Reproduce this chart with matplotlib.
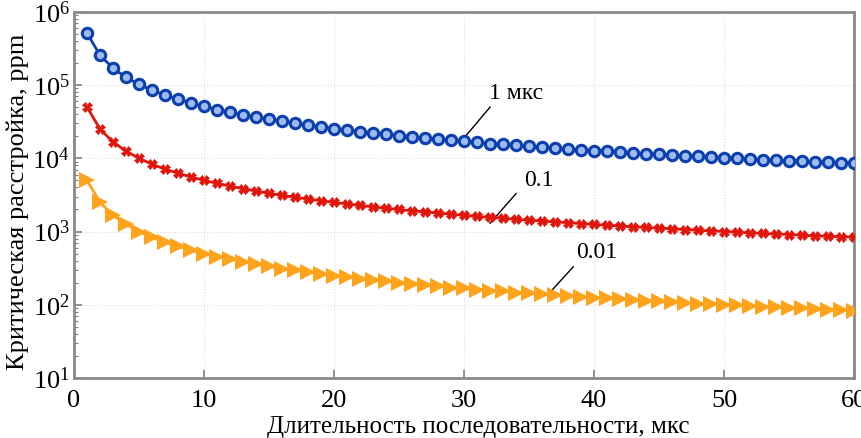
import matplotlib
matplotlib.use("Agg")
import matplotlib.pyplot as plt
from matplotlib.ticker import LogLocator, NullFormatter

# pulse sequence duration, us
duration = list(range(1, 61))

# critical detuning (ppm) for pulse widths 1 us, 0.1 us, 0.01 us
detune_1us = [510000, 255000, 170000, 127000, 102000, 85000, 73000, 64000, 57000, 51000,
              46000, 42500, 39000, 36500, 34000, 32000, 30000, 28300, 26800, 25500,
              24300, 23200, 22200, 21200, 20400, 19600, 18900, 18200, 17600, 17000,
              16500, 15900, 15500, 15000, 14600, 14200, 13800, 13400, 13100, 12700,
              12400, 12100, 11900, 11600, 11300, 11100, 10900, 10600, 10400, 10200,
              10000, 9800, 9600, 9400, 9300, 9100, 8900, 8800, 8600, 8500]
detune_01 = [50000, 25000, 16700, 12500, 10000, 8300, 7100, 6250, 5550, 5000,
             4550, 4170, 3850, 3570, 3330, 3120, 2940, 2780, 2630, 2500,
             2380, 2270, 2170, 2080, 2000, 1920, 1850, 1790, 1720, 1670,
             1610, 1560, 1520, 1470, 1430, 1390, 1350, 1320, 1280, 1250,
             1220, 1190, 1160, 1140, 1110, 1090, 1060, 1040, 1020, 1000,
             980, 960, 940, 925, 910, 890, 875, 860, 850, 835]
detune_001 = [5000, 2500, 1670, 1250, 1000, 830, 710, 625, 555, 500,
              455, 417, 385, 357, 333, 312, 294, 278, 263, 250,
              238, 227, 217, 208, 200, 192, 185, 179, 172, 167,
              161, 156, 152, 147, 143, 139, 135, 132, 128, 125,
              122, 119, 116, 114, 111, 109, 106, 104, 102, 100,
              98, 96, 94, 92.5, 91, 89, 87.5, 86, 85, 83]

plt.rcParams["font.family"] = ["Liberation Serif", "DejaVu Serif"]
plt.rcParams["mathtext.fontset"] = "stix"

fig = plt.figure(figsize=(8.61, 4.38), dpi=100)
ax = fig.add_axes([0.086, 0.137, 0.906, 0.836])

ax.plot(duration, detune_1us, "-o", color="#0b3fae", lw=2, ms=7.5, mew=2.2,
        mec="#0b3fae", mfc="#9dbbee", zorder=3)
ax.plot(duration, detune_01, "-X", color="#e0150c", lw=2, ms=6.5, mew=0.5,
        mec="#e0150c", zorder=3)
ax.plot(duration, detune_001, "->", color="#ffa21c", lw=2, ms=11, mew=0,
        zorder=3)

# curve labels with leader lines
ax.plot([30, 32], [1.9e4, 5.0e4], color="black", lw=1)
ax.text(31.9, 5.6e4, "1 мкс", fontsize=17, ha="left", va="bottom")
ax.plot([32, 34], [1.3e3, 3.3e3], color="black", lw=1)
ax.text(34.6, 3.6e3, "0.1", fontsize=17, ha="left", va="bottom")
ax.plot([36.5, 38.4], [1.41e2, 3.3e2], color="black", lw=1)
ax.text(38.6, 3.7e2, "0.01", fontsize=17, ha="left", va="bottom")

ax.set_yscale("log")
ax.set_xlim(0, 60)
ax.set_ylim(1e1, 1e6)
ax.set_xticks(range(0, 61, 10))
ax.yaxis.set_major_locator(LogLocator(base=10, numticks=10))
ax.yaxis.set_minor_locator(LogLocator(base=10, subs=range(2, 10), numticks=10))
ax.yaxis.set_minor_formatter(NullFormatter())
ax.tick_params(which="both", direction="in", labelsize=19, color="#808080")
ax.tick_params(which="major", length=6, width=1.2)
ax.tick_params(which="minor", length=3, width=0.8)
ax.tick_params(axis="x", pad=9)
ax.tick_params(axis="y", pad=3)
ax.grid(True, which="major", ls=":", color="#dddddd", lw=0.8)
for s in ax.spines.values():
    s.set_color("#8a8a8a")
    s.set_linewidth(2)

ax.set_xlabel("Длительность последовательности, мкс", fontsize=18, labelpad=3)
ax.set_ylabel("Критическая расстройка, ppm", fontsize=19, labelpad=1)
ax.xaxis.set_label_coords(0.518, -0.105)
ax.yaxis.set_label_coords(-0.058, 0.48)

fig.savefig("out.png", dpi=100)
